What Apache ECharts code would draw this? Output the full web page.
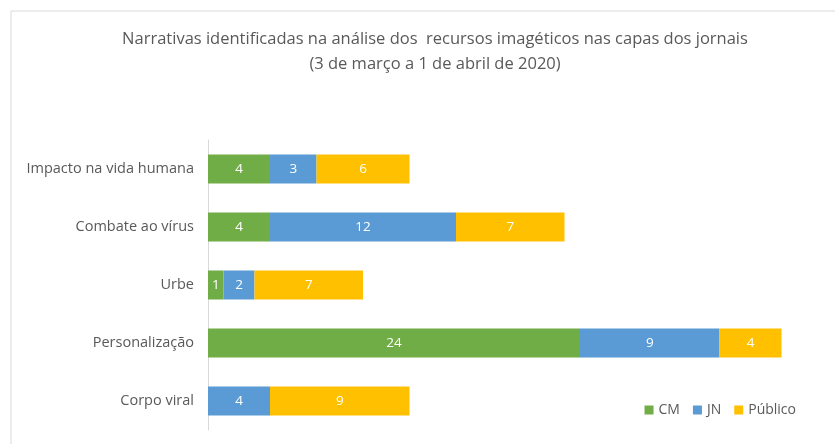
<!DOCTYPE html>
<html><head><meta charset="utf-8">
<script src="https://cdn.jsdelivr.net/npm/echarts@6/dist/echarts.min.js"></script>
<style>html,body{margin:0;padding:0;background:#fff}#c{width:835px;height:444px}</style>
</head><body><div id="c"></div>
<script>
const categories = ['Impacto na vida humana','Combate ao vírus','Urbe','Personalização','Corpo viral'];
const seriesNames = ['CM','JN','Público'];
const cm = [4,4,1,24,0];
const jn = [3,12,2,9,4];
const publico = [6,7,7,4,9];
const titleLines = ['Narrativas identificadas na análise dos  recursos imagéticos nas capas dos jornais','(3 de março a 1 de abril de 2020)'];
const colors = ['#70AD47','#5B9BD5','#FFC000'];
const font = 'Open Sans';
const chart = echarts.init(document.getElementById('c'));
const mk = (name, data, i) => ({
  name, type:'bar', stack:'t', data, barWidth:'50%',
  itemStyle:{color:colors[i]},
  label:{show:true, position:'inside', color:'#fff', fontSize:13.5, fontFamily:font,
    formatter:p => p.value ? p.value : ''}
});
chart.setOption({
  animation:false,
  graphic:[{type:'rect', shape:{x:11,y:11,width:900,height:500}, style:{fill:'none', stroke:'#d9d9d9', lineWidth:1}}],
  title:{text:titleLines.join('\n'), left:430, top:22, textAlign:'center',
    textStyle:{fontFamily:font, fontSize:16.5, fontWeight:'normal', color:'#595959', lineHeight:25}},
  legend:{data:seriesNames, right:34, top:398, itemWidth:9, itemHeight:9, itemGap:13, icon:'rect',
    textStyle:{fontFamily:font, fontSize:14, color:'#595959'}},
  grid:{left:208, right:7, top:140, bottom:14, containLabel:false},
  xAxis:{type:'value', min:0, max:40, show:false},
  yAxis:{type:'category', data:categories, inverse:true,
    axisLine:{show:true, lineStyle:{color:'#d9d9d9'}}, axisTick:{show:false},
    axisLabel:{fontFamily:font, fontSize:14.5, color:'#595959', margin:14}},
  series:[mk(seriesNames[0],cm,0), mk(seriesNames[1],jn,1), mk(seriesNames[2],publico,2)]
});
</script></body></html>
